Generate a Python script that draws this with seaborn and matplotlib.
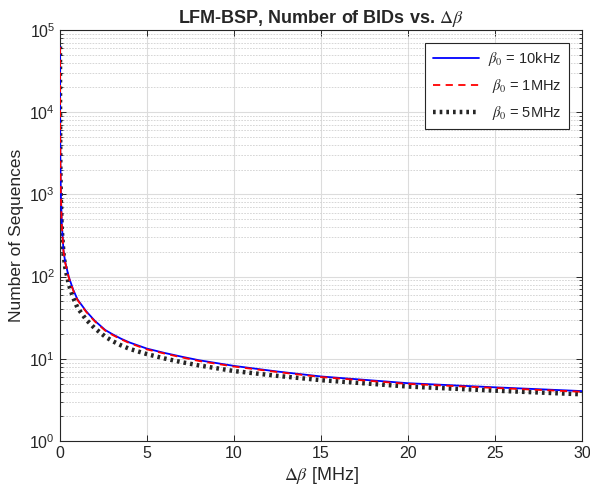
import matplotlib
matplotlib.use('Agg')
import matplotlib.pyplot as plt
import seaborn as sns
import pandas as pd
import numpy as np
from matplotlib.ticker import LogLocator, NullFormatter


# Values

deltaBeta = [0.0008, 0.005, 0.02, 0.05, 0.1, 0.2, 0.3, 0.5, 0.75, 1.0, 1.5, 2.0, 2.6, 3.0,
             3.5, 4.0, 5, 6, 7, 8, 10, 12.5, 15, 20, 25, 30]                          # MHz
seq_10kHz = [63000, 10000, 2500, 1000, 450, 208, 150, 100, 70, 53, 38, 29, 22.4, 20.0,
             17.6, 15.8, 13.3, 11.8, 10.6, 9.6, 8.2, 7.0, 6.1, 5.05, 4.5, 4.05]
seq_1MHz  = [62000, 9800, 2450, 980, 440, 204, 147, 98, 68.5, 52, 37.3, 28.5, 22.0, 19.6,
             17.3, 15.5, 13.0, 11.6, 10.4, 9.4, 8.05, 6.9, 6.0, 4.95, 4.42, 3.97]
seq_5MHz  = [63000, 8500, 2100, 850, 380, 190, 130, 81, 56, 42, 30, 23.5, 18.6, 16.5,
             14.6, 13.2, 11.4, 10.1, 9.1, 8.3, 7.1, 6.2, 5.5, 4.6, 4.1, 3.7]

seriesLabels = [r'$\beta_0$ = 10kHz', r' $\beta_0$ = 1MHz', r' $\beta_0$ = 5MHz']


# Style

sns.set_style('ticks')
plt.rcParams['font.family'] = ['Liberation Sans', 'DejaVu Sans']
plt.rcParams['mathtext.fontset'] = 'stix'
plt.rcParams['xtick.direction'] = 'in'
plt.rcParams['ytick.direction'] = 'in'

df = pd.DataFrame({'x': deltaBeta, 'a': seq_10kHz, 'b': seq_1MHz, 'c': seq_5MHz})

fig = plt.figure(figsize=(5.9, 4.91), dpi=100)
ax = fig.add_axes([0.1017, 0.1018, 0.8847, 0.8371])

sns.lineplot(ax=ax, data=df, x='x', y='c', color='#262626', linestyle=(0, (0.6, 0.9)),
             linewidth=3.2, label=seriesLabels[2], zorder=2)
sns.lineplot(ax=ax, data=df, x='x', y='a', color='#0000ff', linestyle='-',
             linewidth=1.3, label=seriesLabels[0], zorder=3)
sns.lineplot(ax=ax, data=df, x='x', y='b', color='#ff0000', linestyle=(0, (4, 3)),
             linewidth=1.3, label=seriesLabels[1], zorder=4)

ax.set_yscale('log')
ax.set_xlim(0, 30)
ax.set_ylim(1, 1e5)
ax.set_xticks([0, 5, 10, 15, 20, 25, 30])
ax.yaxis.set_major_locator(LogLocator(base=10, numticks=10))
ax.yaxis.set_minor_locator(LogLocator(base=10, subs=np.arange(2, 10), numticks=10))
ax.yaxis.set_minor_formatter(NullFormatter())

ax.grid(True, which='major', color='#dcdcdc', linewidth=0.8, linestyle='-')
ax.grid(True, which='minor', axis='y', color='#d0d0d0', linewidth=0.6, linestyle=(0, (2, 1.5)))
ax.set_axisbelow(True)

ax.tick_params(axis='both', which='both', top=True, right=True, colors='#262626',
               labelsize=11.5)
ax.tick_params(which='major', length=4, width=0.7)
ax.tick_params(which='minor', length=2, width=0.6)
for s in ax.spines.values():
  s.set_color('#262626')
  s.set_linewidth(0.8)

ax.set_xlabel(r'$\Delta\beta$ [MHz]', fontsize=13, color='#262626', labelpad=3)
ax.set_ylabel('Number of Sequences', fontsize=12.5, color='#262626', labelpad=4)
ax.set_title(r'LFM-BSP, Number of BIDs vs. $\Delta\beta$', fontsize=13,
             fontweight='bold', pad=5)

handles, labels = ax.get_legend_handles_labels()
order = [labels.index(l) for l in seriesLabels]
leg = ax.legend([handles[i] for i in order], [labels[i] for i in order],
                loc='upper right', fontsize=10.5, frameon=True, fancybox=False,
                edgecolor='#262626', framealpha=1, handlelength=3.2,
                borderpad=0.5, labelspacing=0.6, handletextpad=0.6,
                borderaxespad=0, bbox_to_anchor=(0.975, 0.968))
leg.get_frame().set_linewidth(0.8)

fig.savefig('out.png', dpi=100)
